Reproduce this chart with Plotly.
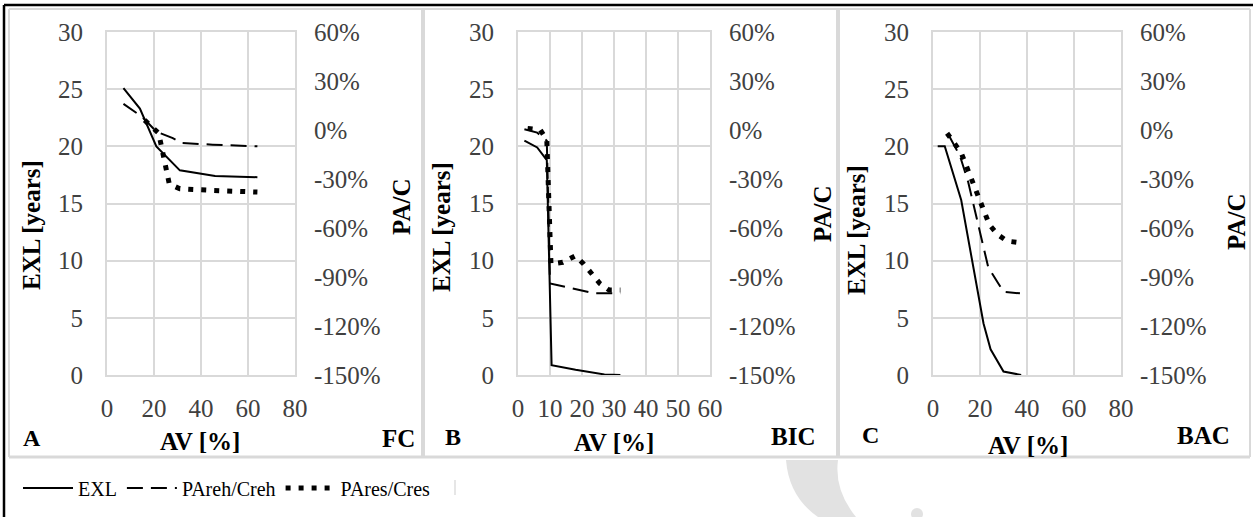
import plotly.graph_objects as go

W, H = 1257, 517
FONT = "Liberation Serif, Times New Roman, serif"

# ---------------- data ----------------
# Panel A (FC)
a_exl_x = [7, 14, 21, 31, 46, 64]
a_exl_y = [25.1, 23.3, 20.0, 17.9, 17.4, 17.3]
a_reh_x = [7, 15, 21, 28, 32, 45, 64]
a_reh_y = [16, 8, -1, -5, -8, -9, -10]
a_res_x = [16, 22, 26.5, 31, 45, 64]
a_res_y = [6, -2, -33, -36, -37, -38]

# Panel B (BIC)
b_exl_x = [2, 6, 9, 10.5, 18, 27, 32]
b_exl_y = [20.5, 19.9, 18.8, 0.85, 0.45, 0.05, 0]
b_reh_x = [2, 6, 9, 10, 24, 32]
b_reh_y = [0.5, -1.6, -6.5, -94, -100, -100]
b_res_x = [3, 7, 9, 10.3, 14, 18, 20.5, 23, 25.6, 28.5, 32]
b_res_y = [1, 0, -6, -82, -81, -77, -82, -88, -94, -98, -98]

# Panel C (BAC)
c_exl_x = [2, 5, 12, 21.5, 24.5, 30, 37.5]
c_exl_y = [20, 20, 15.3, 4.5, 2.25, 0.3, 0]
c_reh_x = [7, 11.5, 15, 20.7, 23.5, 27.8, 30, 37]
c_reh_y = [-4, -16, -32, -67, -84, -94, -99, -100]
c_res_x = [6, 12, 18, 24, 27.5, 31.5, 37]
c_res_y = [-2, -14, -36, -58, -64, -68, -69]

series_names = ["EXL", "PAreh/Creh", "PAres/Cres"]
panel_letters = ["A", "B", "C"]
panel_codes = ["FC", "BIC", "BAC"]
x_ranges = [[0, 80], [0, 60], [0, 80]]
x_dticks = [20, 10, 20]
y_left_range = [0, 30]
y_right_range = [-150, 60]
right_tickvals = [-150, -120, -90, -60, -30, 0, 30, 60]
right_ticktext = ["-150%", "-120%", "-90%", "-60%", "-30%", "0%", "30%", "60%"]

# ---------------- helpers for layout positions ----------------
def px(x):
    return x / W

def py(y):
    return 1 - y / H

GRID = "#d9d9d9"
TICKC = "#404040"
TICKSIZE = 25

panels = [
    dict(ex=a_exl_x, ey=a_exl_y, rx=a_reh_x, ry=a_reh_y, sx=a_res_x, sy=a_res_y, dom=(107, 295)),
    dict(ex=b_exl_x, ey=b_exl_y, rx=b_reh_x, ry=b_reh_y, sx=b_res_x, sy=b_res_y, dom=(518, 710)),
    dict(ex=c_exl_x, ey=c_exl_y, rx=c_reh_x, ry=c_reh_y, sx=c_res_x, sy=c_res_y, dom=(933, 1121)),
]
y_dom = [py(375), py(32)]

fig = go.Figure()
layout = {}

for i, p in enumerate(panels):
    xa = "x" if i == 0 else f"x{i+1}"
    yl = "y" if i == 0 else f"y{2*i+1}"
    yr = f"y{2*i+2}"
    show = i == 0
    fig.add_trace(go.Scatter(x=p["ex"], y=p["ey"], xaxis=xa, yaxis=yl, mode="lines",
                             name=series_names[0], showlegend=show, legendrank=1,
                             line=dict(color="black", width=2)))
    fig.add_trace(go.Scatter(x=p["rx"], y=p["ry"], xaxis=xa, yaxis=yr, mode="lines",
                             name=series_names[1], showlegend=show, legendrank=2,
                             line=dict(color="black", width=2, dash="16px,8px")))
    fig.add_trace(go.Scatter(x=p["sx"], y=p["sy"], xaxis=xa, yaxis=yr, mode="lines",
                             name=series_names[2], showlegend=show, legendrank=3,
                             line=dict(color="black", width=5, dash="5px,8px")))

    xkey = "xaxis" if i == 0 else f"xaxis{i+1}"
    ylkey = "yaxis" if i == 0 else f"yaxis{2*i+1}"
    yrkey = f"yaxis{2*i+2}"
    layout[xkey] = dict(domain=[px(p["dom"][0]), px(p["dom"][1])], anchor=yl,
                        range=x_ranges[i], dtick=x_dticks[i], tick0=0, automargin=False,
                        showgrid=True, gridcolor=GRID, gridwidth=2,
                        showline=True, linecolor=GRID, linewidth=2, mirror=True,
                        zeroline=False, ticks="", ticklabelstandoff=10,
                        tickfont=dict(family=FONT, size=TICKSIZE, color=TICKC))
    layout[ylkey] = dict(domain=y_dom, anchor=xa, range=y_left_range, dtick=5, tick0=0,
                         automargin=False,
                         showgrid=True, gridcolor=GRID, gridwidth=2,
                         showline=True, linecolor=GRID, linewidth=2, mirror=True,
                         zeroline=False, ticks="", ticklabelstandoff=17,
                         tickfont=dict(family=FONT, size=TICKSIZE, color=TICKC))
    layout[yrkey] = dict(overlaying=yl, anchor=xa, side="right", range=y_right_range,
                         tickmode="array", tickvals=right_tickvals, ticktext=right_ticktext,
                         automargin=False, showgrid=False,
                         zeroline=False, showline=False, ticks="", ticklabelstandoff=18,
                         tickfont=dict(family=FONT, size=TICKSIZE, color=TICKC))

annotations = []
def ann(text, x, y, size=25, angle=0, bold=True):
    annotations.append(dict(text=f"<b>{text}</b>" if bold else text, x=px(x), y=py(y),
                            xref="paper", yref="paper", showarrow=False, textangle=angle,
                            xanchor="center", yanchor="middle",
                            font=dict(family=FONT, size=size, color="black")))

exl_pos = [(31, 225), (442, 227), (857, 230)]
pac_pos = [(402, 207), (822, 214), (1236, 222)]
av_pos = [(200, 441), (614, 442), (1028, 445)]
let_pos = [(32, 438), (453, 437), (870, 435)]
code_pos = [(398, 438), (793, 436), (1203, 435)]
for i in range(3):
    ann("EXL [years]", *exl_pos[i], angle=-90)
    ann("PA/C", *pac_pos[i], angle=-90)
    ann("AV [%]", *av_pos[i])
    ann(panel_letters[i], *let_pos[i], size=24)
    ann(panel_codes[i], *code_pos[i])

shapes = []
def line(x0, y0, x1, y1, color, width):
    shapes.append(dict(type="line", xref="paper", yref="paper", x0=px(x0), y0=py(y0),
                       x1=px(x1), y1=py(y1), line=dict(color=color, width=width), layer="below"))

# frame
line(4, 5, 1253, 5, "black", 2.5)
line(4, 5, 4, 517, "black", 2.5)
line(9, 9, 1250, 9, GRID, 2)
line(9, 9, 9, 457, GRID, 2)
line(1250, 9, 1250, 457, GRID, 2)
line(9, 457, 1250, 457, GRID, 3)
line(423, 9, 423, 457, GRID, 4)
line(838, 9, 838, 457, GRID, 4)
line(455, 480, 455, 495, "#e6e6e6", 2)

# faint watermark arc
def pth(pts):
    s = ""
    for cmd, coords in pts:
        s += cmd + " ".join(f"{px(coords[k]):.5f},{py(coords[k+1]):.5f}" for k in range(0, len(coords), 2)) + " "
    return s + "Z"

shapes.append(dict(type="path", xref="paper", yref="paper", layer="below",
                   path=pth([("M", [786, 460]), ("Q", [789, 497, 818, 517]),
                             ("L", [856, 517]), ("Q", [834, 490, 838, 460])]),
                   fillcolor="#e2e2e2", line=dict(width=0)))
shapes.append(dict(type="circle", xref="paper", yref="paper", layer="below",
                   x0=px(911), x1=px(923), y0=py(520), y1=py(508),
                   fillcolor="#e2e2e2", line=dict(width=0)))

fig.update_layout(
    **layout,
    width=W, height=H, autosize=False,
    margin=dict(l=0, r=0, t=0, b=0, autoexpand=False),
    paper_bgcolor="white", plot_bgcolor="white",
    annotations=annotations, shapes=shapes,
    showlegend=True,
    legend=dict(orientation="h", x=px(18), y=py(488), xanchor="left", yanchor="middle",
                font=dict(family=FONT, size=20, color="black"), itemwidth=50,
                bgcolor="rgba(0,0,0,0)", traceorder="normal"),
)

fig.write_html("out.html")
